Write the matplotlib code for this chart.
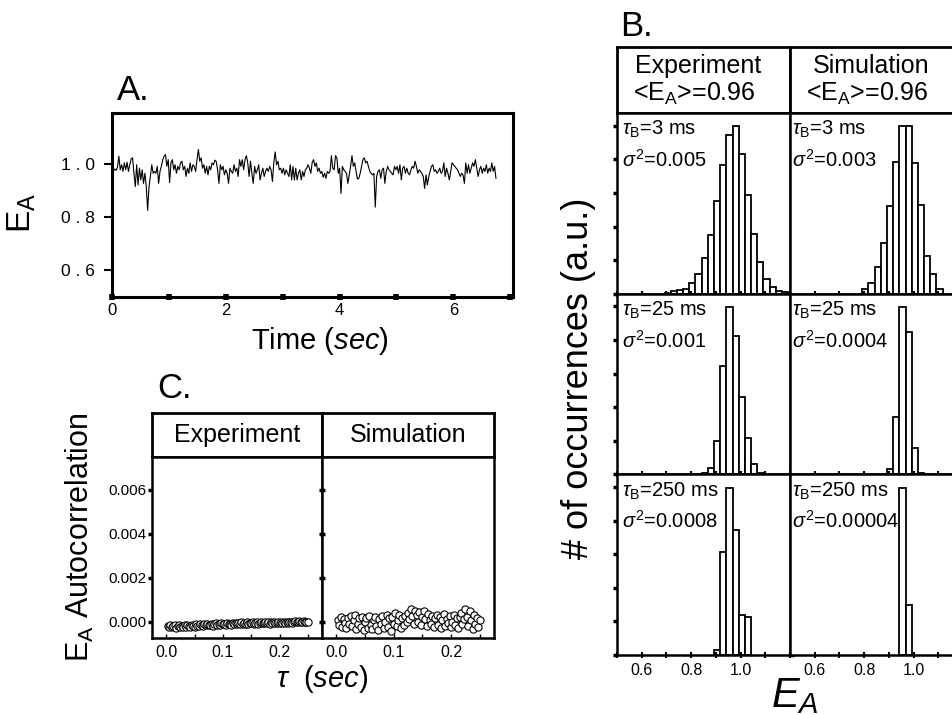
import numpy as np
import matplotlib
matplotlib.use("Agg")
import matplotlib.pyplot as plt
from matplotlib.ticker import MultipleLocator

plt.rcParams['font.family'] = ['Liberation Sans', 'DejaVu Sans']
plt.rcParams['mathtext.fontset'] = 'custom'
plt.rcParams['mathtext.rm'] = 'Liberation Sans'
plt.rcParams['mathtext.it'] = 'Liberation Sans:italic'
plt.rcParams['mathtext.bf'] = 'Liberation Sans:bold'

# ---------------- data ----------------
trace_start_s = 0.0
trace_end_s = 6.75
ea_trace = [
    0.940, 0.971, 0.980, 0.975, 0.987, 1.028, 0.977, 0.996, 0.971, 1.003, 0.977, 1.005, 0.971, 0.996,
    1.018, 1.022, 0.964, 0.914, 0.996, 0.920, 0.983, 0.939, 0.977, 0.926, 0.964, 0.914, 0.825, 0.914,
    0.952, 0.996, 0.964, 0.971, 0.964, 0.990, 0.926, 0.971, 0.990, 1.015, 1.028, 1.034, 0.990, 1.015,
    0.929, 1.003, 1.015, 0.977, 0.996, 0.964, 0.990, 0.977, 1.003, 1.009, 0.977, 0.990, 0.952, 0.983,
    0.964, 1.003, 0.971, 0.996, 0.990, 0.971, 1.015, 1.053, 1.009, 1.022, 0.983, 0.996, 0.964, 0.990,
    0.958, 0.990, 0.977, 1.003, 0.996, 1.013, 1.009, 0.977, 0.926, 0.996, 0.977, 0.990, 0.958, 0.977,
    0.964, 0.926, 0.983, 0.971, 0.964, 0.996, 0.971, 0.983, 0.952, 1.015, 0.990, 1.015, 0.977, 1.015,
    1.030, 1.003, 0.952, 1.009, 0.964, 0.926, 0.990, 0.964, 0.977, 0.996, 0.939, 0.964, 0.983, 0.952,
    0.971, 0.983, 0.971, 0.990, 0.977, 0.933, 1.003, 1.044, 0.996, 1.009, 0.977, 0.983, 0.964, 0.983,
    0.958, 0.977, 0.964, 0.952, 0.996, 0.939, 0.990, 0.939, 0.983, 0.939, 0.964, 0.977, 0.939, 0.971,
    0.952, 0.977, 0.983, 0.996,
    0.983, 0.964, 1.005, 1.015, 0.990, 1.003, 0.971, 0.983, 0.964, 0.971, 0.949, 0.964, 0.945, 0.971,
    0.964, 0.971, 1.030, 0.983, 0.977, 1.030, 1.022, 0.964, 0.983, 0.888, 0.990, 0.977, 0.971, 0.964,
    0.926, 0.958, 0.990, 1.030, 0.990, 1.003, 0.971, 0.942, 0.945, 0.964, 0.990, 1.015, 1.022, 1.003,
    1.009, 0.990, 0.971, 0.964, 0.958, 0.964, 0.837, 0.952, 0.971, 0.977, 0.945, 0.977, 0.983, 0.926,
    0.971, 0.990, 0.977, 0.971, 0.964, 0.958, 0.990, 0.977, 0.990, 0.964, 0.996, 0.939, 0.983, 0.990,
    0.964, 0.983, 0.964, 0.958, 0.977, 0.990, 0.983, 1.009, 0.990, 0.964, 0.977, 0.971, 0.964, 0.952,
    0.907, 0.958, 0.920, 0.952, 0.971, 0.990, 0.996, 0.971, 0.977, 0.964, 0.971, 0.983, 0.964, 0.971,
    1.003, 0.952, 0.983, 0.964, 0.939, 0.971, 1.003, 0.996, 0.990, 0.983, 0.977, 0.964, 0.952, 0.964,
    0.958, 0.926, 1.003, 0.964, 0.996, 0.964, 0.983, 1.003, 0.990, 1.015, 0.983, 0.952, 0.977, 0.990,
    0.964, 0.983, 0.971, 0.996, 0.964, 0.983, 0.971, 1.003, 0.971, 0.990, 0.945,
]
a_xticks = [0, 2, 4, 6]
a_yticks = [0.6, 0.8, 1.0]
a_yticklabels = ['0 . 6', '0 . 8', '1 . 0']

# Panel B: E_A histograms (bin width 0.025, arbitrary units)
bin_width = 0.025
exp_3ms_centers = [0.705, 0.73, 0.755, 0.78, 0.805, 0.83, 0.855, 0.88, 0.905, 0.93,
                   0.955, 0.98, 1.005, 1.03, 1.055, 1.08, 1.105, 1.13, 1.155, 1.18]
exp_3ms_counts = [3, 7, 10, 15, 32, 60, 105, 175, 275, 383,
                  472, 500, 415, 295, 178, 95, 45, 20, 8, 4]
sim_3ms_centers = [0.805, 0.83, 0.855, 0.88, 0.905, 0.93, 0.955, 0.98, 1.005, 1.03, 1.055, 1.08, 1.105]
sim_3ms_counts = [15, 32, 80, 150, 260, 392, 498, 498, 390, 263, 112, 60, 15]
exp_25ms_centers = [0.83, 0.855, 0.88, 0.905, 0.93, 0.955, 0.98, 1.005, 1.03, 1.055, 1.08]
exp_25ms_counts = [1, 3, 18, 100, 322, 498, 412, 230, 108, 32, 5]
sim_25ms_centers = [0.905, 0.93, 0.955, 0.98, 1.005, 1.03]
sim_25ms_counts = [15, 172, 498, 425, 78, 3]
exp_250ms_centers = [0.905, 0.93, 0.955, 0.98, 1.005, 1.03]
exp_250ms_counts = [16, 308, 498, 371, 120, 113]
sim_250ms_centers = [0.955, 0.98]
sim_250ms_counts = [498, 148]
row_tau = ['3 ms', '25 ms', '250 ms']
exp_sigma2 = ['0.005', '0.001', '0.0008']
sim_sigma2 = ['0.003', '0.0004', '0.00004']
mean_ea = '0.96'

# Panel C: autocorrelation of E_A (lag step 2.5 ms, values in units of 1e-4)
lag_step_s = 0.0025
exp_acf_e4 = [
    -2.0, -2.4, -1.6, -2.6, -2.1, -1.8, -2.9, -2.2, -1.5, -2.5,
    -2.0, -2.7, -1.7, -2.3, -1.4, -2.1, -2.6, -1.6, -1.9, -2.4,
    -1.3, -1.9, -2.2, -1.1, -1.7, -2.0, -1.2, -1.6, -0.9, -1.8,
    -1.4, -1.0, -1.9, -1.2, -0.8, -1.5, -1.1, -1.6, -0.7, -1.3,
    -1.0, -1.4, -0.6, -1.2, -0.9, -1.5, -0.7, -1.1, -0.5, -1.3,
    -0.8, -1.0, -0.4, -1.2, -0.7, -0.9, -0.3, -1.1, -0.6, -0.8,
    -0.4, -1.0, -0.5, -0.2, -0.9, -0.6, -0.3, -0.8, -0.5, -0.1,
    -0.7, -0.4, -0.9, -0.3, -0.6, -0.2, -0.8, -0.5, -0.1, -0.6,
    -0.3, -0.7, -0.2, -0.5, 0.0, -0.6, -0.3, -0.1, -0.5, -0.2,
    0.1, -0.4, -0.2, 0.2, -0.3, -0.1, 0.1, -0.2, 0.0, -0.1,
]
sim_acf_e4 = [
    0.5, -1.5, 2.0, -2.5, 1.0, -0.5, -3.0, 1.5, -1.0, 2.5,
    -2.0, 0.5, 3.0, -3.5, -1.0, 1.5, -2.5, 2.0, -4.0, 0.0,
    1.5, -3.0, 2.5, -1.5, -3.5, 0.5, 2.0, -2.0, -4.0, 1.0,
    -1.0, 2.5, -3.0, 0.0, 3.0, -2.5, 1.5, -4.5, 2.0, -1.0,
    4.0, -2.0, 0.5, 3.0, -3.0, 1.5, -1.5, 2.5, 0.0, 4.0,
    1.0, 5.5, 2.5, -1.0, 5.0, 3.0, 0.0, 4.5, -1.5, 2.0,
    5.0, 1.0, -2.0, 3.5, 0.5, -1.0, 2.5, -2.5, 1.5, 3.0,
    -1.5, 2.0, -3.0, 0.5, 3.5, -2.0, 1.0, -0.5, 2.5, -2.5,
    0.0, 3.0, -1.5, 1.5, -3.0, 2.0, 4.0, -1.0, 1.0, 5.5,
    2.0, -2.0, 5.0, 0.5, -3.5, 3.0, -1.0, 1.5, -2.5, 0.5,
]
c_yticks = [0.0, 0.002, 0.004, 0.006]
c_yticklabels = ['0.000', '0.002', '0.004', '0.006']
c_xticks = [0.0, 0.1, 0.2]

# ---------------- layout helpers ----------------
W, H = 952, 715
fig = plt.figure(figsize=(W / 100, H / 100), dpi=100)


def box(l, t, r, b):
    return [l / W, 1 - b / H, (r - l) / W, (b - t) / H]


def ftext(x, y, s, **kw):
    return fig.text(x / W, 1 - y / H, s, **kw)


# ---------------- Panel A ----------------
axA = fig.add_axes(box(112, 113, 513, 297))
t = np.linspace(trace_start_s, trace_end_s, len(ea_trace))
axA.plot(t, ea_trace, color='black', lw=0.8)
axA.set_xlim(0, 7.05)
axA.set_ylim(0.5, 1.19)
axA.set_xticks(a_xticks)
axA.xaxis.set_minor_locator(MultipleLocator(1))
axA.set_yticks(a_yticks)
axA.set_yticklabels(a_yticklabels)
axA.tick_params(axis='x', which='both', direction='inout', length=4, width=4, labelsize=12, pad=2)
axA.tick_params(axis='y', direction='out', length=6, width=1.5, labelsize=12.5, pad=6)
for s in axA.spines.values():
    s.set_linewidth(2.2)
ftext(117, 100, 'A.', fontsize=25, va='baseline', ha='left')
ftext(320, 341, 'Time ($\\mathit{sec}$)', fontsize=21, ha='center', va='center')
ftext(22, 213, 'E$_\\mathregular{A}$', fontsize=24, ha='center', va='center', rotation=90)

# ---------------- Panel B ----------------
colL = [(617, 790), (790, 963)]
hdr_top, hdr_bot = 47, 113
row_edges = [113, 293.7, 474.3, 655]
for ci, (l, r) in enumerate(colL):
    axh = fig.add_axes(box(l, hdr_top, r, hdr_bot))
    axh.set_xticks([]); axh.set_yticks([])
    for s in axh.spines.values():
        s.set_linewidth(2)
    cx = (l + r) / 2 - 5
    ftext(cx, 73, ['Experiment', 'Simulation'][ci], fontsize=18, ha='center', va='baseline')
    ftext(cx - 4, 101, '<E$_\\mathregular{A}$>=' + mean_ea, fontsize=18, ha='center', va='baseline')

hist_data = [
    [(exp_3ms_centers, exp_3ms_counts), (sim_3ms_centers, sim_3ms_counts)],
    [(exp_25ms_centers, exp_25ms_counts), (sim_25ms_centers, sim_25ms_counts)],
    [(exp_250ms_centers, exp_250ms_counts), (sim_250ms_centers, sim_250ms_counts)],
]
sigmas = [exp_sigma2, sim_sigma2]
for ri in range(3):
    top, bot = row_edges[ri], row_edges[ri + 1]
    for ci, (l, r) in enumerate(colL):
        ax = fig.add_axes(box(l, top, r, bot))
        centers, counts = hist_data[ri][ci]
        ax.bar(centers, counts, width=bin_width, facecolor='white', edgecolor='black', linewidth=1.3)
        ax.set_xlim(0.5, 1.2)
        ax.set_ylim(0, 538)
        ax.set_xticks([0.6, 0.8, 1.0])
        ax.xaxis.set_minor_locator(MultipleLocator(0.1))
        ax.set_yticks([0, 100, 200, 300, 400, 500])
        ax.tick_params(axis='x', which='both', direction='inout', length=5, width=1.5, labelsize=11.5, pad=3)
        if ri < 2:
            ax.tick_params(axis='x', labelbottom=False)
        ax.tick_params(axis='y', direction='out', length=3, width=2.5, labelleft=False)
        if ci == 0:
            ax.tick_params(axis='y', left=True, right=True)
        else:
            ax.tick_params(axis='y', left=False)
        for s in ax.spines.values():
            s.set_linewidth(1.8)
        tx = l + 5 if ci == 0 else l + 2
        ftext(tx, top + 22, '$\\tau_\\mathregular{B}$=' + row_tau[ri], fontsize=14.5, ha='left', va='baseline')
        ftext(tx, top + 54, '$\\sigma^\\mathregular{2}$=' + sigmas[ci][ri], fontsize=14.5, ha='left', va='baseline')

ftext(620, 36, 'B.', fontsize=25, va='baseline', ha='left')
ftext(578, 378, '# of occurrences (a.u.)', fontsize=26, ha='center', va='center', rotation=90)
ftext(795, 676, '$E_A$', fontsize=30, ha='center', va='top')

# ---------------- Panel C ----------------
cols_c = [(152, 322), (322, 494)]
lags = np.arange(1, len(exp_acf_e4) + 1) * lag_step_s
acfs = [np.array(exp_acf_e4) * 1e-4, np.array(sim_acf_e4) * 1e-4]
for ci, (l, r) in enumerate(cols_c):
    axh = fig.add_axes(box(l, 413, r, 457))
    axh.set_xticks([]); axh.set_yticks([])
    for s in axh.spines.values():
        s.set_linewidth(2)
    ftext((l + r) / 2, 442, ['Experiment', 'Simulation'][ci], fontsize=18, ha='center', va='baseline')

    ax = fig.add_axes(box(l, 457, r, 638))
    ax.plot(lags, acfs[ci], 'o', ms=5.2, mfc='white', mec='black', mew=0.8)
    ax.set_xlim(-0.025, 0.275)
    ax.set_ylim(-0.00075, 0.0075)
    ax.set_xticks(c_xticks)
    ax.set_xticklabels(['0.0', '0.1', '0.2'])
    ax.xaxis.set_minor_locator(MultipleLocator(0.05))
    ax.set_yticks(c_yticks)
    ax.set_yticklabels(c_yticklabels)
    ax.tick_params(axis='x', which='both', direction='in', length=3, width=1, labelsize=11.5, pad=5)
    if ci == 0:
        ax.tick_params(axis='y', direction='out', length=3, width=2.5, labelsize=11, pad=1)
    else:
        ax.tick_params(axis='y', direction='inout', length=5, width=2.5, labelleft=False)
    for s in ax.spines.values():
        s.set_linewidth(1.8)

ftext(157, 398, 'C.', fontsize=25, va='baseline', ha='left')
ftext(80, 537, 'E$_\\mathregular{A}$ Autocorrelation', fontsize=22, ha='center', va='center', rotation=90)
ftext(322, 679, '$\\tau$  ($\\mathit{sec}$)', fontsize=21, ha='center', va='center')

fig.savefig('out.png', dpi=100)
